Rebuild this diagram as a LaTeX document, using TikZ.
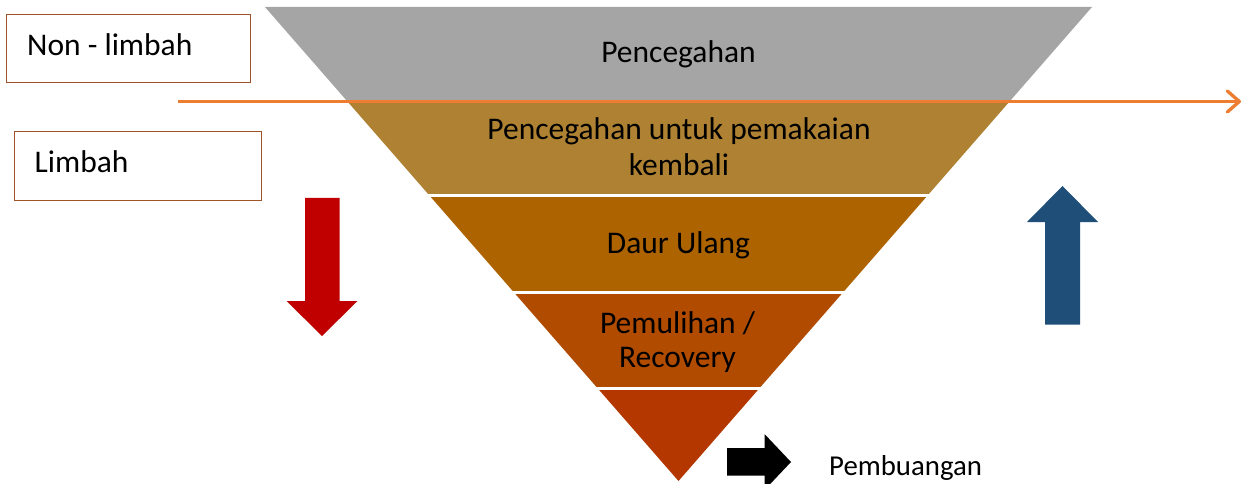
\documentclass[tikz,border=0pt]{standalone}
\usepackage{fontspec}
\setmainfont{Carlito}
\usetikzlibrary{arrows.meta}
\definecolor{cgray}{HTML}{A5A5A5}
\definecolor{cgold}{HTML}{AE8232}
\definecolor{cdaur}{HTML}{AD6300}
\definecolor{cpem}{HTML}{B04B00}
\definecolor{cbot}{HTML}{B43700}
\definecolor{corange}{HTML}{ED7D31}
\definecolor{cred}{HTML}{C00000}
\definecolor{cblue}{HTML}{1F4E79}
\definecolor{cbox}{HTML}{9C5428}
\tikzset{
  boxst/.style={draw=cbox, line width=1.4pt, fill=white, inner sep=0pt, anchor=north west},
  lbl/.style={font=\fontsize{31.5}{36}\selectfont, inner sep=0pt, text=black},
  bandlbl/.style={lbl, align=center, anchor=base},
}
\begin{document}
\begin{tikzpicture}[x=1pt,y=-1pt]
\useasboundingbox (0,0) rectangle (1243,484);
\fill[white] (0,0) rectangle (1243,484);
% funnel bands
\begin{scope}
\clip (265,7) -- (1092,7) -- (678.5,481) -- cycle;
\fill[cgray] (200,0) rectangle (1150,101);
\fill[cgold] (200,101) rectangle (1150,194.5);
\fill[cdaur] (200,197.5) rectangle (1150,290.5);
\fill[cpem]  (200,293.5) rectangle (1150,386.5);
\fill[cbot]  (200,389.5) rectangle (1150,490);
\end{scope}
% band labels
\node[bandlbl] (l1) at (678.5,63) {Pencegahan};
\node[bandlbl] (l2) at (679,176) {Pencegahan untuk pemakaian\\kembali};
\node[bandlbl] (l3) at (678.5,253) {Daur Ulang};
\node[bandlbl, font=\fontsize{31.5}{34}\selectfont] (l4) at (677.5,367) {Pemulihan /\\Recovery};
% orange line
\coordinate (os) at (178,101.5);
\coordinate (oe) at (1241,101.5);
\draw[corange, line width=3.3pt, -{Straight Barb[length=12pt,width=21pt,line width=3.3pt,round]}] (os) -- (oe);
% boxes
\node[boxst, minimum width=244pt, minimum height=68pt] (bnl) at (6,14) {};
\node[lbl, anchor=base west] (tnl) at (27,56) {Non - limbah};
\node[boxst, minimum width=247pt, minimum height=69pt] (bl) at (14,131) {};
\node[lbl, anchor=base west] (tl) at (34.5,172) {Limbah};
% red down arrow
\fill[cred] (305,198) -- (339.5,198) -- (339.5,301) -- (357.5,301) -- (322,336) -- (286.5,301) -- (305,301) -- cycle;
% blue up arrow
\fill[cblue] (1045,324.5) -- (1080,324.5) -- (1080,222) -- (1098,222) -- (1062.5,186) -- (1027,222) -- (1045,222) -- cycle;
% black right arrow
\fill[black] (727,448) -- (764.5,448) -- (764.5,434) -- (791,462) -- (764.5,490) -- (764.5,475.5) -- (727,475.5) -- cycle;
\node[lbl, font=\fontsize{28.8}{34}\selectfont, anchor=base west] (pb) at (829,475) {Pembuangan};
\end{tikzpicture}
\end{document}
